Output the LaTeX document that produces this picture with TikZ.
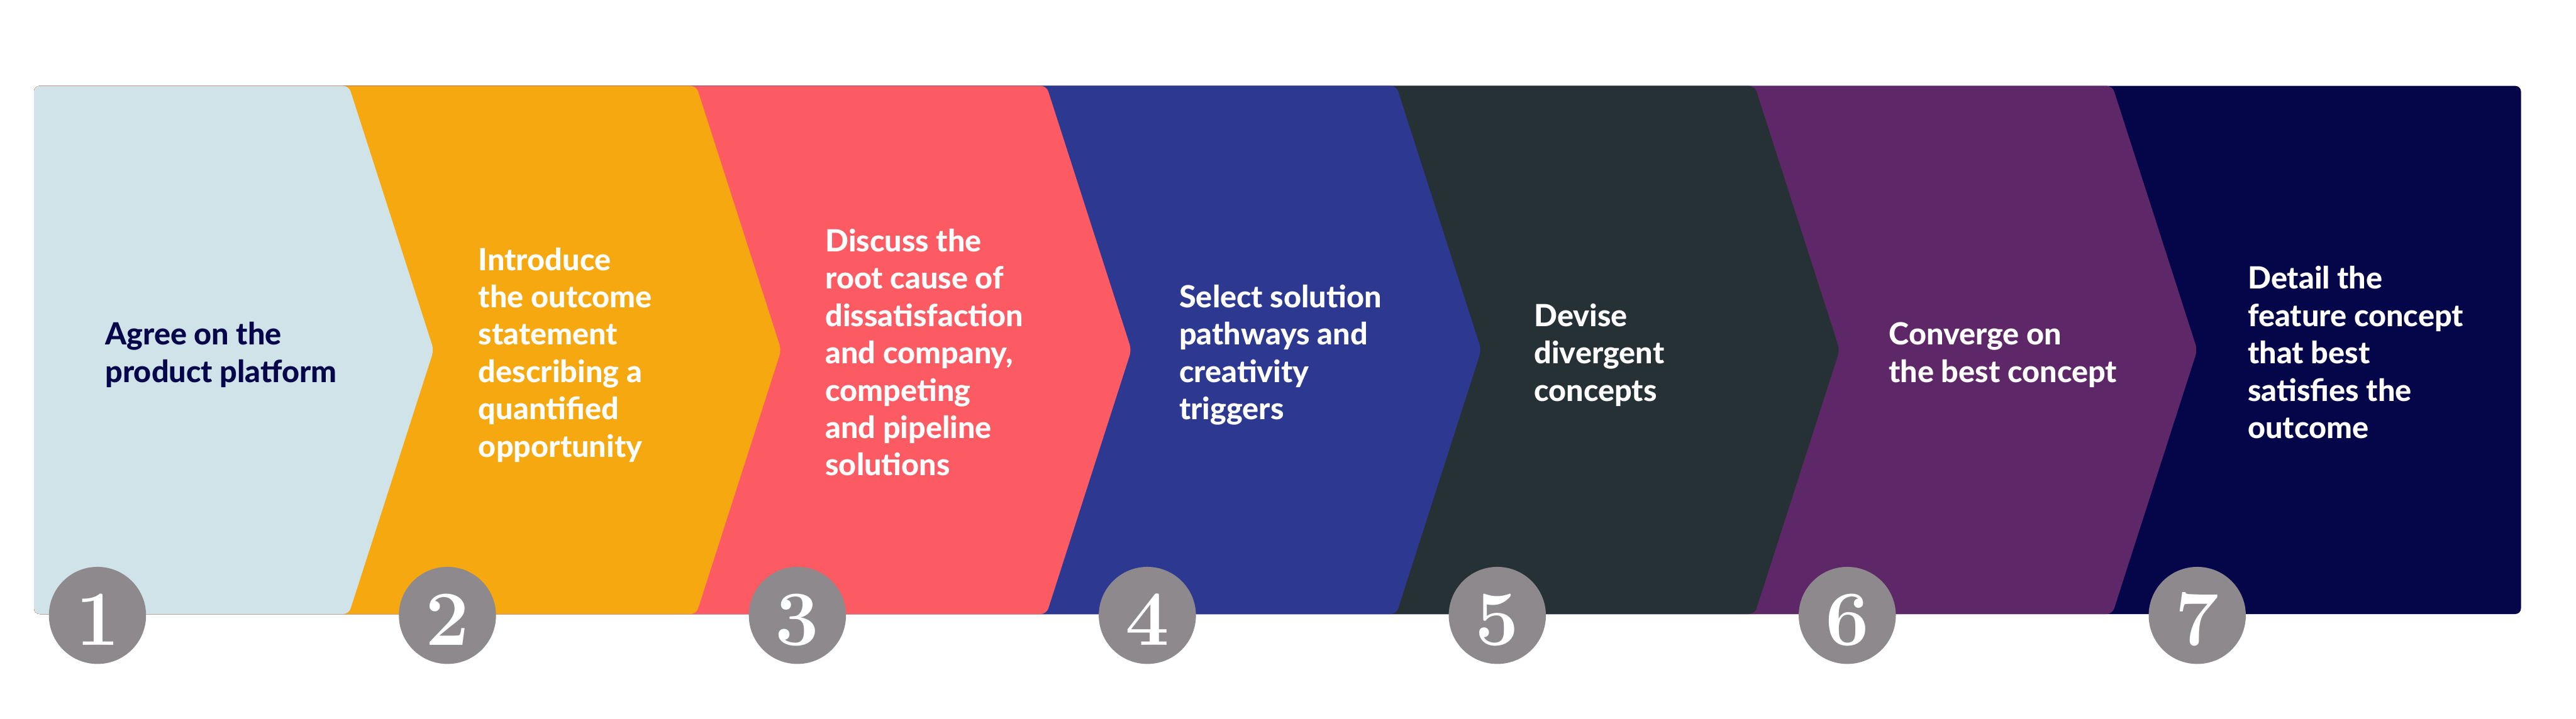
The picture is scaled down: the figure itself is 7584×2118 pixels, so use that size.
\documentclass[tikz,border=0pt]{standalone}
\usepackage{fontspec}
\newfontfamily\stepfont{Lato}[BoldFont={Lato Heavy}]
\definecolor{cA}{HTML}{D0E3E9}
\definecolor{cB}{HTML}{F6A811}
\definecolor{cC}{HTML}{FD5B63}
\definecolor{cD}{HTML}{2D3990}
\definecolor{cE}{HTML}{263135}
\definecolor{cF}{HTML}{5E2767}
\definecolor{cG}{HTML}{05064A}
\definecolor{ink}{HTML}{06064A}
\definecolor{circ}{HTML}{8D898C}
\begin{document}
\begin{tikzpicture}[x=0.1pt,y=-0.1pt,
  stepshape/.style={rounded corners=1.7pt},
  steptext/.style={anchor=base west, inner sep=0pt, text=white,
    font=\stepfont\bfseries\fontsize{9pt}{11pt}\selectfont},
  numcircle/.style={circle, fill=circ, minimum size=28.6pt, inner sep=0pt},
  numtext/.style={anchor=base, inner sep=0pt, text=white,
    font=\fontsize{23pt}{23pt}\selectfont\bfseries}]
\useasboundingbox (0,0) rectangle (7584,2118);
% band, drawn from the last step backwards so each chevron lies on top of the next
\fill[cG, stepshape] (100,253) rectangle (7422,1809);
\foreach \T/\col in {6219/cF, 5166/cE, 4111/cD, 3081/cC, 2050/cB, 1027/cA}
  \fill[\col, stepshape] (100,253) -- (\T,253) -- ({\T+250},1031) -- (\T,1809) -- (100,1809) -- cycle;
% texts
\node[steptext, text=ink] (t1) at (308,1016.5)
  {\begin{tabular}[t]{@{}l@{}}Agree on the\\product platform\end{tabular}};
\node[steptext] (t2) at (1407,796.5)
  {\begin{tabular}[t]{@{}l@{}}Introduce\\the outcome\\statement\\describing a\\quantified\\opportunity\end{tabular}};
\node[steptext] (t3) at (2428,741.5)
  {\begin{tabular}[t]{@{}l@{}}Discuss the\\root cause of\\dissatisfaction\\and company,\\competing\\and pipeline\\solutions\end{tabular}};
\node[steptext] (t4) at (3470,906.5)
  {\begin{tabular}[t]{@{}l@{}}Select solution\\pathways and\\creativity\\triggers\end{tabular}};
\node[steptext] (t5) at (4515,961.5)
  {\begin{tabular}[t]{@{}l@{}}Devise\\divergent\\concepts\end{tabular}};
\node[steptext] (t6) at (5559,1016.5)
  {\begin{tabular}[t]{@{}l@{}}Converge on\\the best concept\end{tabular}};
\node[steptext] (t7) at (6616,851.5)
  {\begin{tabular}[t]{@{}l@{}}Detail the\\feature concept\\that best\\satisfies the\\outcome\end{tabular}};
% numbered circles
\foreach \i in {1,...,7} {
  \pgfmathsetmacro{\cx}{287+1030.3*(\i-1)}
  \node[numcircle] (c\i) at (\cx,1813) {};
  \node[numtext] (n\i) at (\cx,1900) {\i};
}
\end{tikzpicture}
\end{document}
